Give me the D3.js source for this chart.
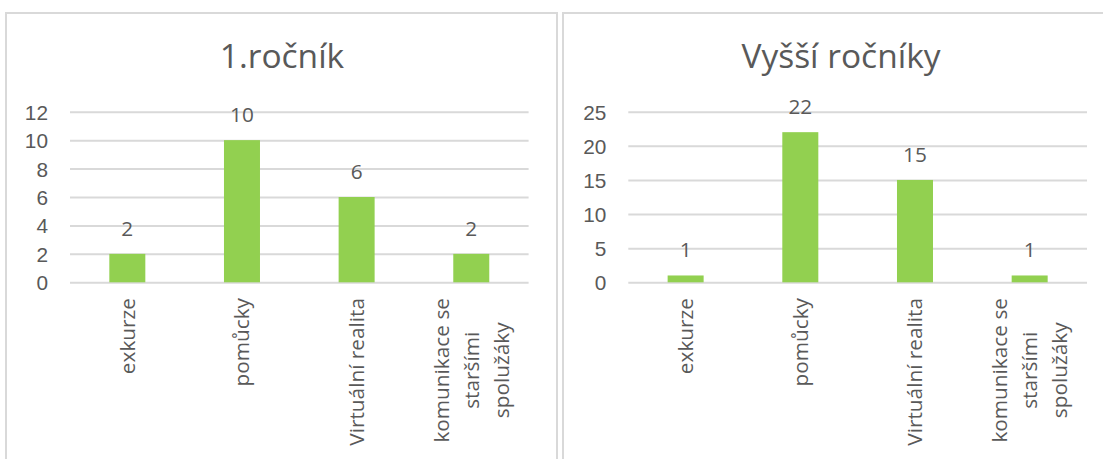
<!DOCTYPE html>
<html>
<head>
<meta charset="utf-8">
<script src="https://cdn.jsdelivr.net/npm/d3@7"></script>
<style>
  body { margin: 0; background: #fff; }
  svg { display: block; font-family: 'Open Sans', Lato, sans-serif; }
  .tick text { fill: #595959; }
</style>
</head>
<body>
<svg width="1103" height="459"></svg>
<script>
// categories (line breaks as on the axis)
var categories = [
  ['exkurze'],
  ['pomůcky'],
  ['Virtuální realita'],
  ['komunikace se', 'staršími', 'spolužáky']
];
var firstYear = [2, 10, 6, 2];
var upperYears = [1, 22, 15, 1];
var firstYearTicks = [0, 2, 4, 6, 8, 10, 12];
var upperYearsTicks = [0, 5, 10, 15, 20, 25];

var textColor = '#595959';
var gridColor = '#d9d9d9';
var barColor = '#92d050';
var fs = '20.8px';

var svg = d3.select('svg');

function drawPanel(opts) {
  var g = svg.append('g');

  // frame
  g.append('rect')
    .attr('x', opts.frame[0]).attr('y', 13)
    .attr('width', opts.frame[1] - opts.frame[0]).attr('height', 470)
    .attr('fill', 'none')
    .attr('stroke', gridColor)
    .attr('stroke-width', 2);

  g.append('text')
    .attr('x', opts.titleX).attr('y', 68)
    .attr('text-anchor', 'middle')
    .attr('fill', textColor)
    .style('font-size', '33.5px')
    .text(opts.title);

  var x = d3.scaleBand()
    .domain(d3.range(categories.length))
    .range([opts.left, opts.right])
    .paddingInner(0.686)
    .paddingOuter(0.343);

  var y = d3.scaleLinear()
    .domain([0, d3.max(opts.ticks)])
    .range([282.3, 111.7]);

  // gridlines + y labels
  var yAxis = g.append('g')
    .attr('transform', `translate(${opts.left},0)`)
    .call(d3.axisLeft(y)
      .tickValues(opts.ticks)
      .tickSize(-(opts.right - opts.left))
      .tickPadding(22));
  yAxis.select('.domain').remove();
  yAxis.selectAll('.tick line').attr('stroke', gridColor).attr('stroke-width', 2);
  yAxis.selectAll('.tick text')
    .style('font-size', fs)
    .attr('font-family', null)
    .attr('dy', '0.36em');

  // bars
  g.selectAll('rect.bar')
    .data(opts.values)
    .join('rect')
    .attr('class', 'bar')
    .attr('x', (d, i) => x(i))
    .attr('width', x.bandwidth())
    .attr('y', d => y(d))
    .attr('height', d => y(0) - y(d))
    .attr('fill', barColor);

  // data labels
  g.selectAll('text.val')
    .data(opts.values)
    .join('text')
    .attr('class', 'val')
    .attr('x', (d, i) => x(i) + x.bandwidth() / 2)
    .attr('y', d => y(d) - 18)
    .attr('text-anchor', 'middle')
    .attr('fill', textColor)
    .style('font-size', fs)
    .text(d => d);

  // category labels, rotated
  var lineH = 30;
  categories.forEach(function(lines, i) {
    var cx = x(i) + x.bandwidth() / 2;
    var lab = g.append('g')
      .attr('transform', `translate(${cx},298) rotate(-90)`);
    var n = lines.length;
    var t = lab.append('text')
      .attr('fill', textColor)
      .style('font-size', fs);
    if (n === 1) {
      t.attr('text-anchor', 'end').attr('x', 0).attr('y', 0).attr('dy', '0.35em').text(lines[0]);
    } else {
      // block of centred lines, its top at the axis offset
      var tmp = lab.append('text').style('font-size', fs).text(lines[0]);
      var w = tmp.node().getComputedTextLength();
      tmp.remove();
      lines.forEach(function(s, k) {
        t.append('tspan')
          .attr('x', -w / 2)
          .attr('y', (k - (n - 1) / 2) * lineH)
          .attr('dy', '0.35em')
          .attr('text-anchor', 'middle')
          .text(s);
      });
    }
  });
}

drawPanel({
  title: '1.ročník', titleX: 282, frame: [6, 557],
  left: 70, right: 528.6, values: firstYear, ticks: firstYearTicks
});
drawPanel({
  title: 'Vyšší ročníky', titleX: 841, frame: [563, 1130],
  left: 628.3, right: 1087, values: upperYears, ticks: upperYearsTicks
});
</script>
</body>
</html>
